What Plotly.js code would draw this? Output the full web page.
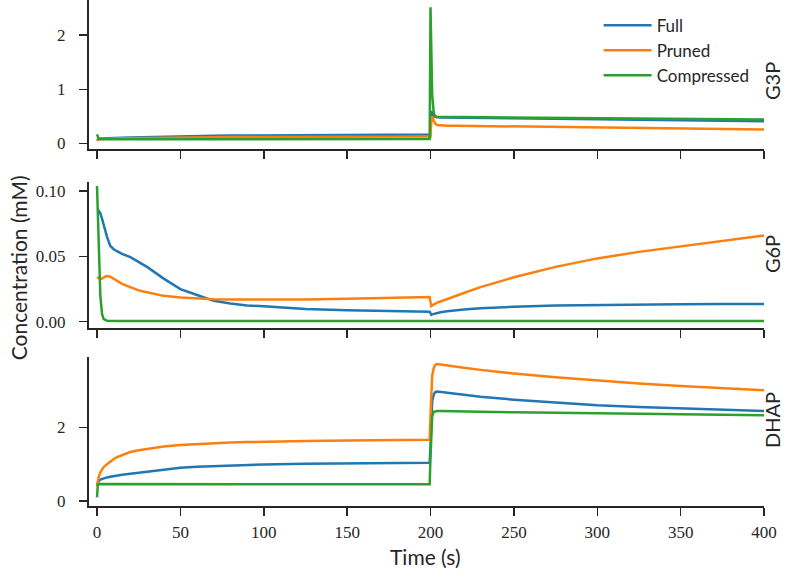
<!DOCTYPE html>
<html>
<head>
<meta charset="utf-8">
<script src="https://cdn.plot.ly/plotly-3.0.1.min.js"></script>
<style>html,body{margin:0;padding:0;background:#fff;}#chart{width:786px;height:578px;}</style>
</head>
<body>
<div id="chart"></div>
<script>
// Time (s)
const time = [0, 0.5, 1, 2, 3, 4, 6, 8, 10, 12, 15, 20, 25, 30, 40, 50, 60, 70, 80, 90, 100, 125, 150, 175, 199.5, 200, 200.5, 201, 202, 203, 204, 206, 210, 215, 220, 230, 250, 275, 300, 325, 350, 375, 400];

const modelNames = ["Full", "Pruned", "Compressed"];
const panelLabels = ["G3P", "G6P", "DHAP"];
const xTicks = [0, 50, 100, 150, 200, 250, 300, 350, 400];

// G3P (mM)
const g3pFull = [0.06, 0.08, 0.09, 0.095, 0.097, 0.098, 0.1, 0.102, 0.104, 0.106, 0.108, 0.112, 0.116, 0.12, 0.127, 0.133, 0.138, 0.142, 0.146, 0.149, 0.152, 0.157, 0.161, 0.164, 0.166, 0.17, 0.6, 0.55, 0.5, 0.49, 0.485, 0.48, 0.478, 0.476, 0.474, 0.47, 0.463, 0.455, 0.446, 0.437, 0.428, 0.419, 0.41];
const g3pPruned = [0.05, 0.07, 0.08, 0.085, 0.087, 0.088, 0.09, 0.092, 0.094, 0.095, 0.097, 0.1, 0.102, 0.105, 0.109, 0.112, 0.115, 0.117, 0.119, 0.121, 0.122, 0.125, 0.127, 0.129, 0.13, 0.13, 0.45, 0.5, 0.42, 0.36, 0.34, 0.332, 0.33, 0.328, 0.326, 0.322, 0.315, 0.305, 0.295, 0.286, 0.277, 0.268, 0.26];
const g3pCompressed = [0.17, 0.1, 0.085, 0.08, 0.08, 0.08, 0.08, 0.08, 0.08, 0.08, 0.08, 0.08, 0.08, 0.08, 0.081, 0.081, 0.081, 0.081, 0.081, 0.082, 0.082, 0.082, 0.082, 0.082, 0.082, 2.51, 1.6, 0.9, 0.55, 0.5, 0.495, 0.493, 0.49, 0.489, 0.488, 0.486, 0.482, 0.476, 0.47, 0.464, 0.458, 0.451, 0.445];

// G6P (mM)
const g6pFull = [0.086, 0.086, 0.085, 0.083, 0.079, 0.074, 0.065, 0.058, 0.0555, 0.054, 0.052, 0.0495, 0.046, 0.042, 0.033, 0.025, 0.0205, 0.016, 0.014, 0.0125, 0.0118, 0.0098, 0.0088, 0.0081, 0.0077, 0.0065, 0.0053, 0.0056, 0.006, 0.0064, 0.0067, 0.0072, 0.008, 0.0088, 0.0094, 0.0103, 0.0115, 0.0124, 0.0129, 0.0132, 0.0134, 0.0135, 0.0135];
const g6pPruned = [0.034, 0.034, 0.0335, 0.033, 0.033, 0.034, 0.035, 0.0345, 0.033, 0.031, 0.029, 0.0265, 0.024, 0.0225, 0.0198, 0.0185, 0.0177, 0.0173, 0.0171, 0.017, 0.017, 0.0171, 0.0175, 0.0182, 0.019, 0.015, 0.012, 0.0125, 0.0133, 0.014, 0.0146, 0.0155, 0.0175, 0.0198, 0.022, 0.0265, 0.034, 0.042, 0.0485, 0.0535, 0.0578, 0.062, 0.066];
const g6pCompressed = [0.104, 0.08, 0.055, 0.02, 0.006, 0.002, 0.0008, 0.0006, 0.0006, 0.0006, 0.0006, 0.0006, 0.0006, 0.0006, 0.0006, 0.0006, 0.0006, 0.0006, 0.0006, 0.0006, 0.0006, 0.0006, 0.0006, 0.0006, 0.0006, 0.0006, 0.0006, 0.0006, 0.0006, 0.0006, 0.0006, 0.0006, 0.0006, 0.0006, 0.0006, 0.0006, 0.0006, 0.0006, 0.0006, 0.0006, 0.0006, 0.0006, 0.0006];

// DHAP (mM)
const dhapFull = [0.42, 0.5, 0.54, 0.58, 0.6, 0.62, 0.64, 0.66, 0.68, 0.69, 0.71, 0.74, 0.77, 0.8, 0.86, 0.9, 0.93, 0.95, 0.97, 0.98, 0.99, 1.01, 1.02, 1.03, 1.04, 1.5, 2.3, 2.7, 2.9, 2.96, 2.97, 2.96, 2.94, 2.91, 2.88, 2.83, 2.75, 2.67, 2.6, 2.55, 2.51, 2.47, 2.44];
const dhapPruned = [0.4, 0.55, 0.65, 0.78, 0.86, 0.92, 1.0, 1.08, 1.14, 1.19, 1.25, 1.33, 1.38, 1.42, 1.48, 1.52, 1.55, 1.57, 1.59, 1.6, 1.61, 1.63, 1.64, 1.65, 1.66, 2.3, 3.0, 3.4, 3.62, 3.7, 3.72, 3.71, 3.68, 3.65, 3.62, 3.56, 3.46, 3.36, 3.27, 3.19, 3.12, 3.06, 3.01];
const dhapCompressed = [0.1, 0.44, 0.46, 0.46, 0.458, 0.457, 0.456, 0.455, 0.455, 0.455, 0.455, 0.455, 0.455, 0.455, 0.455, 0.455, 0.455, 0.455, 0.455, 0.455, 0.455, 0.455, 0.455, 0.455, 0.455, 1.2, 2.0, 2.3, 2.42, 2.44, 2.44, 2.44, 2.435, 2.43, 2.425, 2.42, 2.41, 2.39, 2.38, 2.37, 2.355, 2.345, 2.33];

const colors = ["#1f77b4", "#ff7f0e", "#2ca02c"];
const panels = [
  [g3pFull, g3pPruned, g3pCompressed],
  [g6pFull, g6pPruned, g6pCompressed],
  [dhapFull, dhapPruned, dhapCompressed]
];

const traces = [];
panels.forEach((series, p) => {
  series.forEach((vals, i) => {
    traces.push({
      x: time, y: vals, type: "scatter", mode: "lines",
      name: modelNames[i],
      legendgroup: modelNames[i],
      showlegend: p === 0,
      line: {color: colors[i], width: 2.5},
      xaxis: p === 0 ? "x" : "x" + (p + 1),
      yaxis: p === 0 ? "y" : "y" + (p + 1),
      hoverinfo: "skip"
    });
  });
});

const axColor = "#262626";
const tickFont = {family: "Liberation Serif", size: 17, color: axColor};
function xAx(anchor, labels) {
  return {
    anchor: anchor, domain: [0, 1], range: [-4.8, 400],
    tickvals: xTicks, ticktext: xTicks.map(String), showticklabels: labels,
    ticks: "outside", ticklen: 8, tickwidth: 1.5, tickcolor: axColor,
    ticklabelstandoff: 2,
    showline: true, linecolor: axColor, linewidth: 2,
    showgrid: false, zeroline: false, tickfont: tickFont
  };
}
function yAx(anchor, domain, range, tickvals, ticktext) {
  return {
    anchor: anchor, domain: domain, range: range,
    tickvals: tickvals, ticktext: ticktext,
    ticks: "outside", ticklen: 8, tickwidth: 1.5, tickcolor: axColor,
    ticklabelstandoff: 10,
    showline: true, linecolor: axColor, linewidth: 2,
    showgrid: false, zeroline: false, tickfont: tickFont
  };
}

const labelFont = {family: "Lato, 'Open Sans', sans-serif", size: 21, color: axColor};
const sideFont = {family: "Lato, 'Open Sans', sans-serif", size: 20, color: axColor};

const layout = {
  width: 786, height: 578,
  margin: {l: 89, r: 22, t: 0, b: 72},
  paper_bgcolor: "#fff", plot_bgcolor: "rgba(0,0,0,0)",
  showlegend: true,
  legend: {
    x: 0.755, y: 0.985, xanchor: "left", yanchor: "top",
    bgcolor: "rgba(0,0,0,0)", borderwidth: 0,
    itemwidth: 48,
    font: {family: "Lato, 'Open Sans', sans-serif", size: 17, color: axColor},
    tracegroupgap: 0
  },
  xaxis: xAx("y", false),
  xaxis2: xAx("y2", false),
  xaxis3: xAx("y3", true),
  yaxis: yAx("x", [0.7055, 1], [-0.101, 2.645], [0, 1, 2], ["0", "1", "2"]),
  yaxis2: yAx("x2", [0.3518, 0.6403], [-0.0048, 0.107], [0, 0.05, 0.1], ["0.00", "0.05", "0.10"]),
  yaxis3: yAx("x3", [0, 0.2945], [-0.136, 3.91], [0, 2], ["0", "2"]),
  annotations: [
    {text: panelLabels[0], xref: "paper", yref: "paper", x: 1.012, y: 0.840, textangle: -90, showarrow: false, xanchor: "center", yanchor: "middle", font: sideFont},
    {text: panelLabels[1], xref: "paper", yref: "paper", x: 1.012, y: 0.498, textangle: -90, showarrow: false, xanchor: "center", yanchor: "middle", font: sideFont},
    {text: panelLabels[2], xref: "paper", yref: "paper", x: 1.012, y: 0.170, textangle: -90, showarrow: false, xanchor: "center", yanchor: "middle", font: sideFont},
    {text: "Concentration (mM)", xref: "paper", yref: "paper", x: -0.105, y: 0.470, textangle: -90, showarrow: false, xanchor: "center", yanchor: "middle", font: labelFont},
    {text: "Time (s)", xref: "paper", yref: "paper", x: 0.498, y: -0.099, showarrow: false, xanchor: "center", yanchor: "middle", font: labelFont}
  ]
};

Plotly.newPlot("chart", traces, layout, {staticPlot: true, displayModeBar: false});
</script>
</body>
</html>
